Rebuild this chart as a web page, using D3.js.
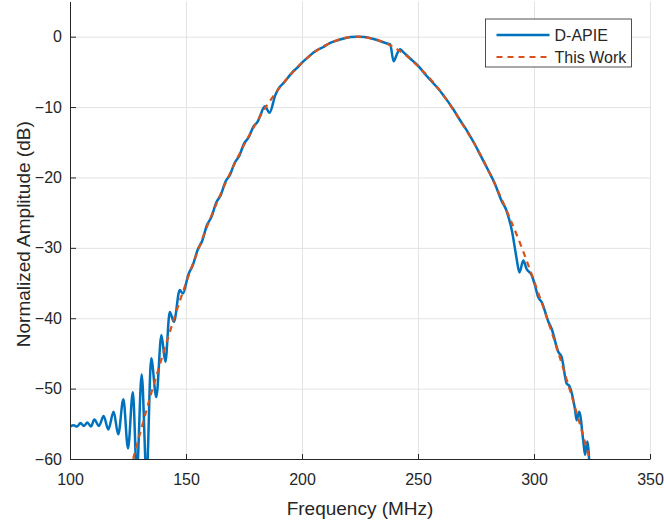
<!DOCTYPE html>
<html>
<head>
<meta charset="utf-8">
<script src="https://cdn.jsdelivr.net/npm/d3@7"></script>
<style>
  body { margin: 0; background: #fff; }
  svg { font-family: "Liberation Sans", Arial, sans-serif; }
</style>
</head>
<body>
<svg id="chart" width="664" height="520"></svg>
<script>
// tick values
const xTicks = [100, 150, 200, 250, 300, 350];
const yTicks = [-60, -50, -40, -30, -20, -10, 0];

// D-APIE measured response (frequency MHz, amplitude dB)
const apieFreq = [100, 101.5, 103, 104.5, 106, 107.5, 109, 110.5, 112.5, 114.5, 116.5, 118.8, 120.8, 123, 125, 127.1, 128.8, 130.9, 133,
  135, 137.2, 139.4, 141.1, 143, 144.8, 147.3, 148.7, 150.9, 153, 155, 157, 159, 161, 163, 165, 167, 169, 171, 173, 175, 177, 179, 181,
  182, 184, 186, 188.5, 190, 192, 194, 196, 198, 200, 203, 206, 209, 212, 215, 218, 221, 224, 227, 230, 233, 236, 238, 239.5, 241, 242.3,
  244, 246, 248, 250, 253, 256, 259, 262, 265, 268, 271, 274, 277, 280, 283, 286, 288, 290.5, 292.5, 293.7, 295.4, 296.8, 299, 300.4,
  301.8, 303.3, 306.2, 307.6, 310.5, 311.9, 314.1, 315.2, 317.7, 318.4, 319.5, 321.2, 322, 323, 324];
const apieAmp = [-55.4, -55.2, -55.4, -54.9, -55.3, -54.8, -55.4, -54.4, -55.3, -53.9, -55.8, -53.3, -56.5, -51.5, -58.5, -50.5, -62, -48, -62.5,
  -45.7, -51.2, -42.4, -46.2, -39.1, -40.5, -36.0, -36.5, -33.9, -32.4, -30.3, -29.0, -26.8, -25.6, -23.6, -22.5, -20.6, -19.6, -17.9, -16.9, -15.2, -14.3, -12.8, -12.0,
  -11.2, -9.9, -10.8, -8.3, -7.3, -6.6, -5.8, -5.0, -4.4, -3.7, -2.8, -2.0, -1.5, -0.9, -0.55, -0.25, -0.05, 0, -0.05, -0.25, -0.55, -0.9, -1.1, -3.5, -2.4, -1.8,
  -2.3, -2.9, -3.5, -4.1, -5.3, -6.4, -7.5, -8.8, -10.2, -11.8, -13.3, -15.0, -16.9, -18.8, -20.8, -23.3, -24.6, -27.6, -31.5, -33.5, -31.8, -33.0, -33.9, -35.3,
  -37.0, -37.7, -40.5, -41.5, -44.8, -45.5, -49.3, -49.6, -53.0, -54.5, -53.3, -57.3, -59.4, -57.5, -61.5];

// This Work (frequency MHz, amplitude dB)
const workFreq = [126, 130, 135, 140, 145, 150, 155, 160, 165, 170, 175, 180, 185, 190, 195, 200, 205, 210, 215, 220, 224,
  230, 235, 240, 245, 250, 255, 260, 265, 270, 275, 280, 285, 290, 295, 300, 305, 310, 315, 320, 325];
const workAmp = [-61.5, -56.6, -50.7, -45.2, -39.9, -35.0, -30.5, -26.2, -22.3, -18.7, -15.4, -12.4, -9.7, -7.4, -5.4, -3.7, -2.3, -1.25, -0.5, -0.1, 0,
  -0.23, -0.75, -1.6, -2.7, -4.2, -5.9, -7.9, -10.3, -12.9, -15.6, -18.8, -22.3, -26.1, -30.2, -34.7, -39.4, -44.4, -49.7, -55.3, -61.2];

const seriesNames = ["D-APIE", "This Work"];
const seriesColors = ["#0072BD", "#D95319"];

const svg = d3.select("#chart");
const plotLeft = 70, plotRight = 650, plotTop = 1.5, plotBottom = 459;

const x = d3.scaleLinear().domain([100, 350]).range([plotLeft, plotRight]);
const y = d3.scaleLinear().domain([-60, 5]).range([plotBottom, plotTop]);

// grid
svg.append("g")
  .attr("transform", `translate(0,${plotBottom})`)
  .call(d3.axisBottom(x).tickValues(xTicks.slice(1)).tickSize(-(plotBottom - plotTop)).tickFormat(""))
  .call(g => g.select(".domain").remove())
  .selectAll("line").attr("stroke", "#e3e3e3");
svg.append("g")
  .attr("transform", `translate(${plotLeft},0)`)
  .call(d3.axisLeft(y).tickValues(yTicks.slice(1)).tickSize(-(plotRight - plotLeft)).tickFormat(""))
  .call(g => g.select(".domain").remove())
  .selectAll("line").attr("stroke", "#e3e3e3");

svg.append("clipPath").attr("id", "plot")
  .append("rect").attr("x", plotLeft).attr("y", plotTop)
  .attr("width", plotRight - plotLeft).attr("height", plotBottom - plotTop);

const line = d3.line()
  .x(d => x(d[0]))
  .y(d => y(d[1]))
  .curve(d3.curveMonotoneX);

svg.append("path")
  .datum(d3.zip(apieFreq, apieAmp))
  .attr("clip-path", "url(#plot)")
  .attr("fill", "none")
  .attr("stroke", seriesColors[0])
  .attr("stroke-width", 2.5)
  .attr("d", line);

svg.append("path")
  .datum(d3.zip(workFreq, workAmp))
  .attr("clip-path", "url(#plot)")
  .attr("fill", "none")
  .attr("stroke", seriesColors[1])
  .attr("stroke-width", 2.2)
  .attr("stroke-dasharray", "6,5")
  .attr("d", line);

// axes
const xAxis = svg.append("g")
  .attr("transform", `translate(0,${plotBottom})`)
  .call(d3.axisBottom(x).tickValues(xTicks).tickSizeInner(-5).tickSizeOuter(0).tickPadding(15));
const yAxis = svg.append("g")
  .attr("transform", `translate(${plotLeft},0)`)
  .call(d3.axisLeft(y).tickValues(yTicks).tickSizeInner(-6).tickSizeOuter(0).tickPadding(8));

[xAxis, yAxis].forEach(g => {
  g.select(".domain").attr("stroke", "#262626");
  g.selectAll(".tick line").attr("stroke", "#262626");
  g.selectAll(".tick text").attr("fill", "#262626").style("font-size", "16px")
    .style("font-family", "Liberation Sans, Arial, sans-serif");
});

// labels
svg.append("text")
  .attr("x", (plotLeft + plotRight) / 2).attr("y", 515)
  .attr("text-anchor", "middle").attr("fill", "#262626")
  .style("font-size", "19px")
  .text("Frequency (MHz)");
svg.append("text")
  .attr("transform", `translate(30,${(plotTop + plotBottom) / 2 + 4}) rotate(-90)`)
  .attr("text-anchor", "middle").attr("fill", "#262626")
  .style("font-size", "19px")
  .text("Normalized Amplitude (dB)");

// legend
const legend = svg.append("g").attr("transform", "translate(485.5,19)");
legend.append("rect")
  .attr("width", 146).attr("height", 48)
  .attr("fill", "#fff").attr("stroke", "#262626").attr("stroke-width", 0.8);
seriesNames.forEach((name, i) => {
  const ly = 16 + i * 22;
  legend.append("line")
    .attr("x1", 11).attr("x2", 64).attr("y1", ly).attr("y2", ly)
    .attr("stroke", seriesColors[i])
    .attr("stroke-width", i === 0 ? 2.5 : 2.2)
    .attr("stroke-dasharray", i === 0 ? null : "6,5");
  legend.append("text")
    .attr("x", 69).attr("y", ly + 6)
    .attr("fill", "#262626")
    .style("font-size", "16px")
    .text(name);
});
</script>
</body>
</html>
